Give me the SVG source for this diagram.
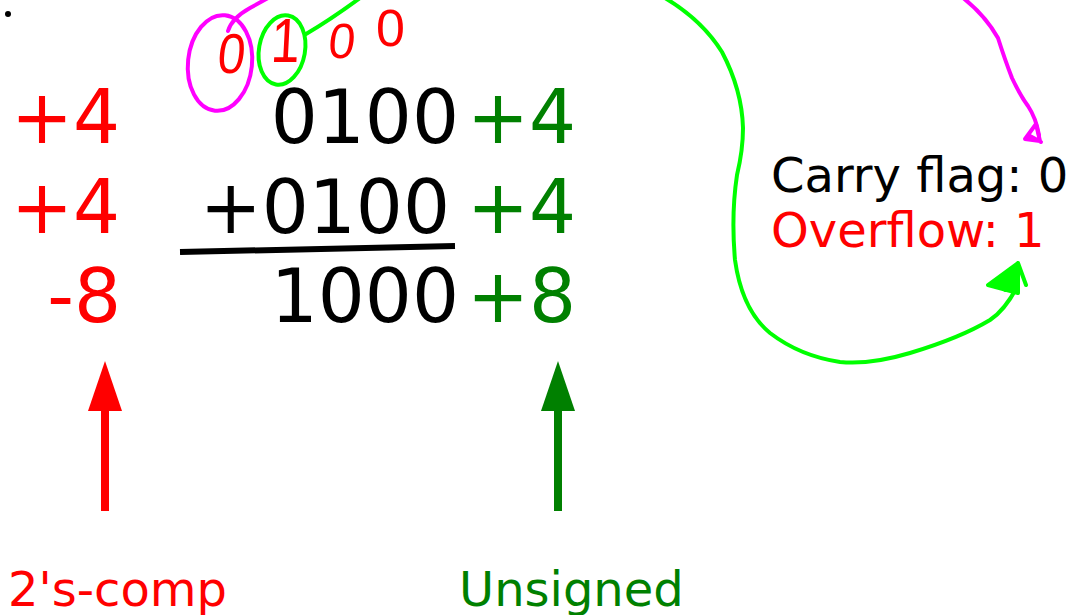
<svg xmlns="http://www.w3.org/2000/svg" width="1071" height="615" viewBox="0 0 1071 615">
  <style>
    .big { font-family: "DejaVu Sans", sans-serif; font-size: 74px; }
    .mid { font-family: "DejaVu Sans", sans-serif; font-size: 48px; }
    .hand { font-family: "Liberation Sans", sans-serif; font-size: 52px; fill: #ff0000; }
    .red { fill: #ff0000; }
    .dkgreen { fill: #008000; }
    .black { fill: #000000; }
    .ink { fill: none; stroke-linecap: round; stroke-linejoin: round; }
    .pink { stroke: #ff00ff; stroke-width: 4; }
    .lime { stroke: #00ff00; stroke-width: 4; }
  </style>
  <rect width="1071" height="615" fill="#ffffff"/>
  <circle cx="8" cy="14" r="3" fill="#000000"/>

  <!-- signed interpretation column -->
  <g id="signed-values" class="big red" text-anchor="end">
    <text x="120" y="143">+4</text>
    <text x="120" y="233">+4</text>
    <text x="121" y="322">-8</text>
  </g>

  <!-- binary sum -->
  <g id="binary-sum" class="big black" text-anchor="end">
    <text x="459" y="143">0100</text>
    <text x="450" y="233">+0100</text>
    <text x="459" y="322">1000</text>
    <line x1="180" y1="252" x2="455" y2="246" stroke="#000000" stroke-width="6"/>
  </g>

  <!-- unsigned interpretation column -->
  <g id="unsigned-values" class="big dkgreen">
    <text x="467" y="143">+4</text>
    <text x="467" y="233">+4</text>
    <text x="467" y="322">+8</text>
  </g>

  <!-- flags -->
  <g id="flags" class="mid">
    <text x="771" y="192" class="black">Carry flag: 0</text>
    <text x="771" y="247" class="red">Overflow: 1</text>
  </g>

  <!-- handwritten carry bits -->
  <g id="carry-bits" class="hand">
    <text transform="translate(216,73) skewX(-6) scale(0.95,1.08)">0</text>
    <text transform="translate(270,62) skewX(-3) scale(1,1.2)">1</text>
    <text transform="translate(327,58) skewX(-6) scale(0.92,0.95)">0</text>
    <text transform="translate(376,46)">0</text>
  </g>

  <!-- bottom labels -->
  <g id="label-2scomp" class="mid red">
    <text x="8" y="606">2's-comp</text>
  </g>
  <g id="label-unsigned" class="mid dkgreen">
    <text x="459" y="606">Unsigned</text>
  </g>

  <!-- connectors -->
  <g id="connectors">
    <!-- pointer arrows to the label columns -->
    <line x1="105" y1="511" x2="105" y2="405" stroke="#ff0000" stroke-width="8"/>
    <polygon points="105,361 122,411 88,411" fill="#ff0000"/>
    <line x1="558" y1="511" x2="558" y2="405" stroke="#008000" stroke-width="8"/>
    <polygon points="558,361 575,411 541,411" fill="#008000"/>

    <!-- carry into the sign bit (magenta) -->
    <ellipse cx="220" cy="63" rx="32" ry="48" transform="rotate(6 220 63)" class="ink pink"/>
    <path d="M228,31 Q232,18 250,8 L268,-2" class="ink pink"/>
    <path d="M962,-3 Q985,15 998,38 Q1005,60 1012,78 Q1020,95 1028,106 Q1036,118 1039,135" class="ink pink"/>
    <path d="M1025,139 L1036,124 L1040,141 Z M1030,136 L1041,142" class="ink pink"/>

    <!-- carry out of the sign bit (green) -->
    <ellipse cx="282" cy="50" rx="23" ry="35" transform="rotate(10 282 50)" class="ink lime"/>
    <path d="M306,34 Q330,20 360,-2" class="ink lime"/>
    <path d="M665,-2 Q702,20 722,52 Q742,90 743,128 Q743,150 737,175 Q731,215 735,260 Q742,310 770,333 Q800,356 840,362 Q870,365 910,353 Q960,338 990,320 Q1005,310 1017,287" class="ink lime"/>
    <path d="M1018,263 L988,285 L1018,293 Z M1018,263 L1005,290 M1018,263 L1026,285" class="ink lime" style="fill:#00ff00"/>
  </g>
</svg>
